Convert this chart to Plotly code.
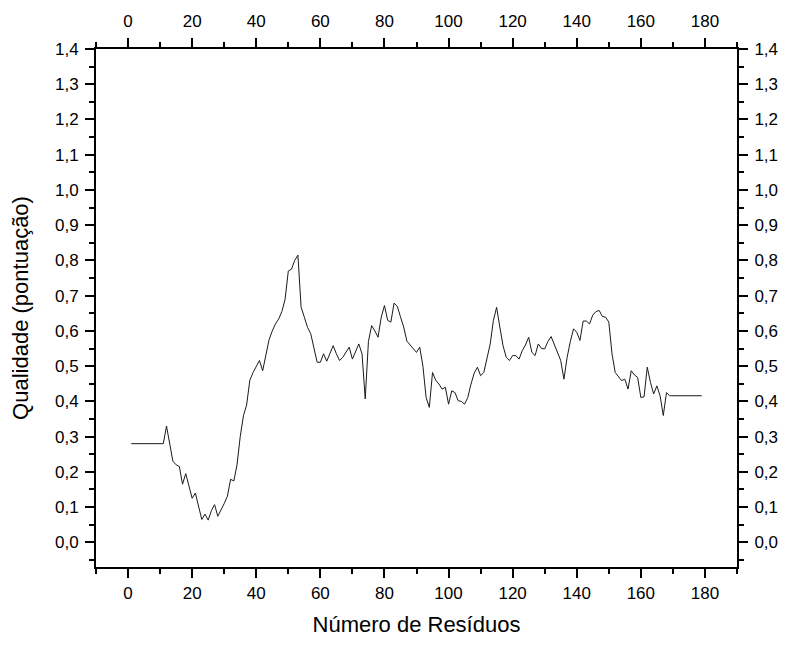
import plotly.graph_objects as go

residues = list(range(1, 180))
quality = [
    0.28, 0.28, 0.28, 0.28, 0.28, 0.28, 0.28, 0.28, 0.28, 0.28,   # 1-10
    0.28, 0.33, 0.28, 0.23, 0.22, 0.215, 0.165, 0.195, 0.16, 0.125,  # 11-20
    0.14, 0.10, 0.065, 0.08, 0.063, 0.09, 0.107, 0.074, 0.09, 0.11,  # 21-30
    0.131, 0.179, 0.174, 0.22, 0.30, 0.359, 0.39, 0.46, 0.482, 0.497,  # 31-40
    0.516, 0.487, 0.53, 0.575, 0.60, 0.62, 0.634, 0.655, 0.69, 0.77,  # 41-50
    0.775, 0.80, 0.815, 0.667, 0.639, 0.61, 0.592, 0.55, 0.511, 0.511,  # 51-60
    0.535, 0.514, 0.535, 0.558, 0.535, 0.516, 0.525, 0.54, 0.554, 0.52,  # 61-70
    0.544, 0.563, 0.535, 0.407, 0.57, 0.615, 0.60, 0.582, 0.639, 0.672,  # 71-80
    0.63, 0.625, 0.679, 0.67, 0.64, 0.611, 0.571, 0.56, 0.55, 0.539,  # 81-90
    0.554, 0.50, 0.411, 0.383, 0.482, 0.46, 0.449, 0.435, 0.44, 0.392,  # 91-100
    0.43, 0.425, 0.402, 0.40, 0.392, 0.411, 0.449, 0.48, 0.497, 0.473,  # 101-110
    0.482, 0.52, 0.563, 0.63, 0.667, 0.611, 0.558, 0.525, 0.516, 0.53,  # 111-120
    0.53, 0.52, 0.544, 0.56, 0.582, 0.539, 0.53, 0.563, 0.55, 0.549,  # 121-130
    0.57, 0.584, 0.563, 0.54, 0.516, 0.463, 0.525, 0.57, 0.606, 0.596,  # 131-140
    0.573, 0.628, 0.628, 0.62, 0.645, 0.655, 0.658, 0.641, 0.639, 0.625,  # 141-150
    0.535, 0.482, 0.47, 0.459, 0.463, 0.435, 0.487, 0.475, 0.468, 0.411,  # 151-160
    0.413, 0.497, 0.454, 0.421, 0.444, 0.416, 0.36, 0.425, 0.416, 0.416,  # 161-170
    0.416, 0.416, 0.416, 0.416, 0.416, 0.416, 0.416, 0.416, 0.416,  # 171-179
]

x_title = "Número de Resíduos"
y_title = "Qualidade (pontuação)"

FONT = "Liberation Sans, Arial, sans-serif"

fig = go.Figure()
fig.add_trace(go.Scatter(x=residues, y=quality, mode="lines",
                         line=dict(color="#1a1a1a", width=1), showlegend=False))
fig.add_trace(go.Scatter(x=residues, y=quality, mode="lines", xaxis="x2", yaxis="y2",
                         line=dict(color="rgba(0,0,0,0)", width=0), showlegend=False,
                         hoverinfo="skip"))

common = dict(showline=True, linecolor="black", linewidth=2, ticks="outside",
              ticklen=9, tickwidth=2, tickcolor="black", showgrid=False, zeroline=False,
              automargin=False,
              tickfont=dict(family=FONT, size=17, color="black"))
xcommon = dict(common, range=[-10, 190], tick0=0, dtick=20,
               minor=dict(ticks="outside", ticklen=5, tickwidth=2, tickcolor="black",
                          dtick=10, tick0=0, showgrid=False))
ycommon = dict(common, range=[-0.07, 1.4], tick0=0, dtick=0.1, tickformat=".1f",
               minor=dict(ticks="outside", ticklen=5, tickwidth=2, tickcolor="black",
                          dtick=0.05, tick0=0, showgrid=False))

# the page body adds an 8px margin, so the figure is sized to fit inside the window
fig.update_layout(
    width=770, height=629,
    margin=dict(l=88, r=41, t=41, b=70),
    paper_bgcolor="white", plot_bgcolor="white",
    separators=",.",
    font=dict(family=FONT, color="black"),
    xaxis=dict(xcommon, ticklabelstandoff=1,
               title=dict(text=x_title, font=dict(family=FONT, size=22), standoff=24)),
    yaxis=dict(ycommon, ticklabelstandoff=3,
               title=dict(text=y_title, font=dict(family=FONT, size=22), standoff=21)),
    xaxis2=dict(xcommon, overlaying="x", side="top", matches="x", ticklabelstandoff=4),
    yaxis2=dict(ycommon, overlaying="y", side="right", matches="y", ticklabelstandoff=3),
)

fig.write_html("out.html")
